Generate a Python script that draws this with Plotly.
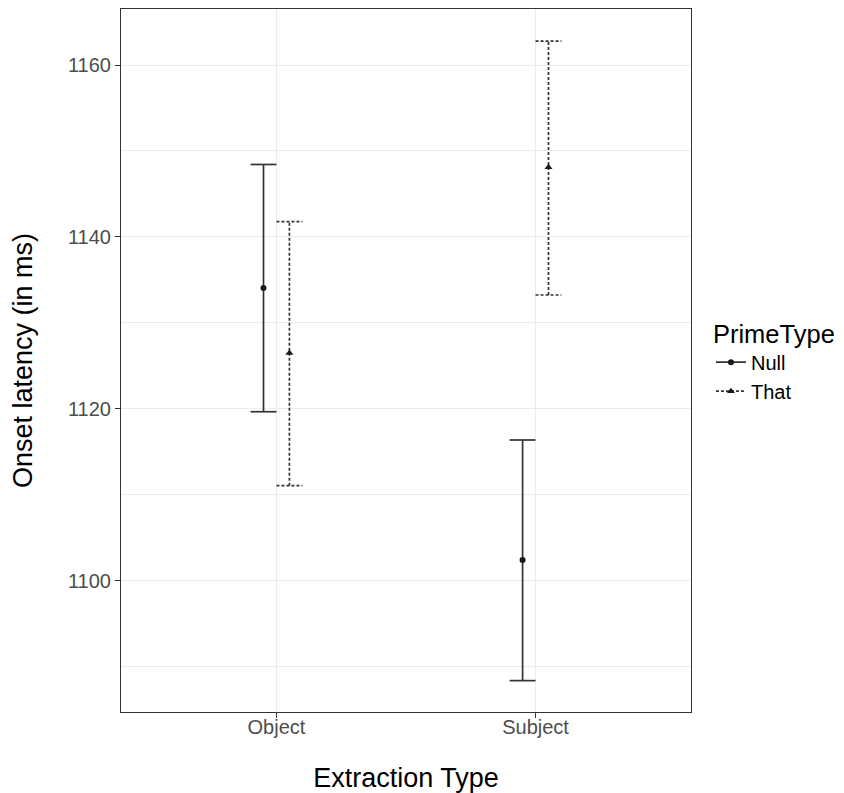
import plotly.graph_objects as go

# ---- data ----
categories = ["Object", "Subject"]
prime_types = ["Null", "That"]
null_mean = [1134.05, 1102.41]
null_lower = [1119.66, 1088.37]
null_upper = [1148.43, 1116.37]
that_mean = [1126.49, 1148.10]
that_lower = [1111.05, 1133.24]
that_upper = [1141.79, 1162.79]
y_ticks = [1100, 1120, 1140, 1160]

dodge = 0.05      # position_dodge offset (category units)
cap = 0.05        # half width of error-bar caps (category units)

groups = [
    dict(name="Null", mean=null_mean, lo=null_lower, hi=null_upper,
         off=-dodge, dash="solid", symbol="circle", msize=6),
    dict(name="That", mean=that_mean, lo=that_lower, hi=that_upper,
         off=dodge, dash="3px,2px", symbol="triangle-up", msize=7),
]

line_color = "#333333"
fig = go.Figure()

for g in groups:
    xs, ys = [], []
    xm = []
    for i, _ in enumerate(categories):
        xc = i + 1 + g["off"]
        xm.append(xc)
        xs += [xc, xc, None, xc - cap, xc + cap, None, xc - cap, xc + cap, None]
        ys += [g["lo"][i], g["hi"][i], None, g["hi"][i], g["hi"][i], None,
               g["lo"][i], g["lo"][i], None]
    fig.add_trace(go.Scatter(
        x=xs, y=ys, mode="lines", showlegend=False, hoverinfo="skip",
        line=dict(color=line_color, width=1.7, dash=g["dash"]),
    ))
    fig.add_trace(go.Scatter(
        x=xm, y=g["mean"], mode="markers", showlegend=False,
        marker=dict(color="#1a1a1a", size=g["msize"], symbol=g["symbol"]),
    ))
    # legend entry
    fig.add_trace(go.Scatter(
        x=[None], y=[None], mode="lines+markers", name=g["name"],
        line=dict(color=line_color, width=1.7, dash=g["dash"]),
        marker=dict(color="#1a1a1a", size=g["msize"], symbol=g["symbol"]),
    ))

fig.update_layout(
    width=836, height=785,
    margin=dict(l=113, r=153, t=1, b=81),
    plot_bgcolor="white", paper_bgcolor="white",
    font=dict(family="Liberation Sans, Arial, sans-serif", color="black"),
    showlegend=True,
    legend=dict(
        title=dict(text="PrimeType", font=dict(size=25.5, color="black")),
        font=dict(size=20, color="black"),
        x=1.035, xanchor="left", y=0.5, yanchor="middle",
        bgcolor="rgba(0,0,0,0)", tracegroupgap=0, itemwidth=30,
    ),
    xaxis=dict(
        range=[0.4, 2.6], tickvals=[1, 2], ticktext=categories,
        showgrid=True, gridcolor="#EBEBEB", gridwidth=1.1,
        zeroline=False, showline=True, linecolor="#333333", linewidth=1,
        mirror=True, ticks="outside", ticklen=5, tickcolor="#333333",
        tickfont=dict(size=20, color="#4D4D4D"), automargin=False,
        ticklabelstandoff=-8,
        title=dict(text="Extraction Type", font=dict(size=27, color="black"),
                   standoff=32),
    ),
    yaxis=dict(
        range=[1084.72, 1166.52], tickvals=y_ticks,
        showgrid=True, gridcolor="#EBEBEB", gridwidth=1.1,
        minor=dict(dtick=10, tick0=1090, showgrid=True, gridcolor="#EBEBEB",
                   gridwidth=0.7),
        zeroline=False, showline=True, linecolor="#333333", linewidth=1,
        mirror=True, ticks="outside", ticklen=5, tickcolor="#333333",
        tickfont=dict(size=20, color="#4D4D4D"), automargin=False,
        title=dict(text="Onset latency (in ms)", font=dict(size=27, color="black"),
                   standoff=31),
    ),
)

fig.write_html("out.html")
